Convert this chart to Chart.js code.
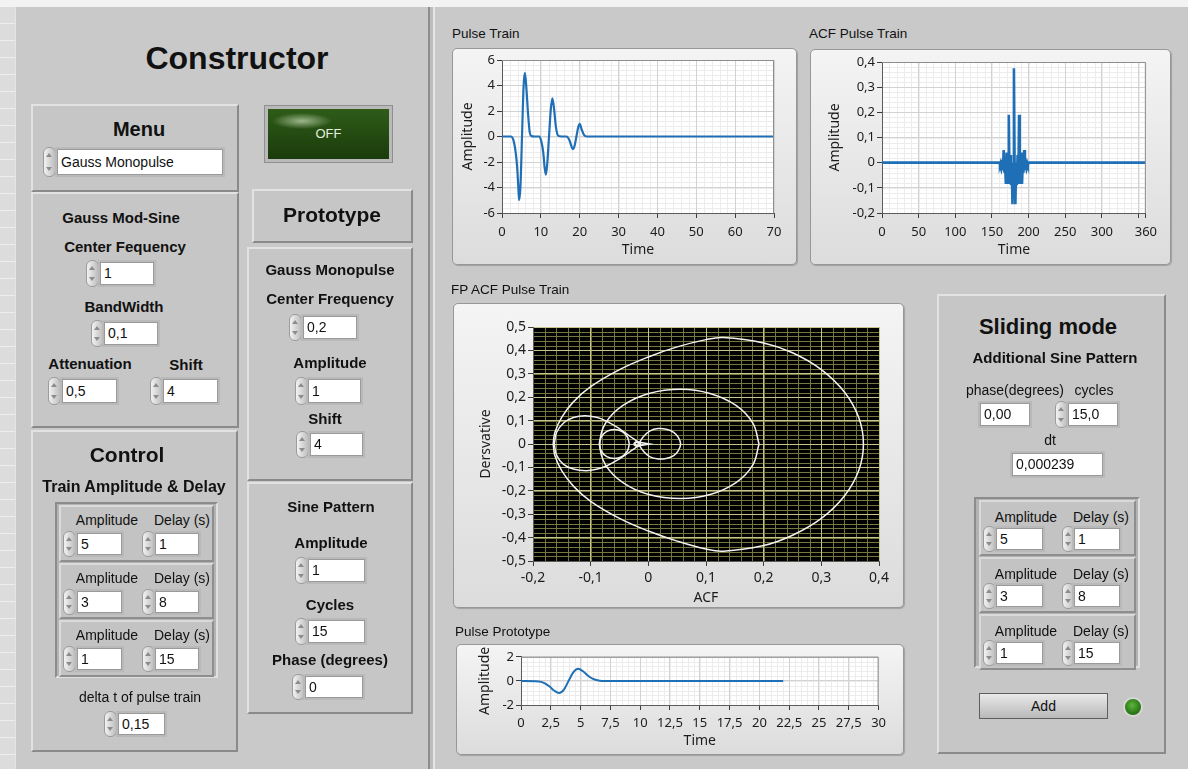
<!DOCTYPE html>
<html>
<head>
<meta charset="utf-8">
<title>Constructor</title>
<script src="https://cdn.jsdelivr.net/npm/chart.js@4.4.1/dist/chart.umd.min.js"></script>
<style>
  html, body { margin: 0; padding: 0; }
  body { width: 1188px; height: 769px; position: relative; overflow: hidden; background: #f3f3f3;
         font-family: 'Liberation Sans', Arial, sans-serif; color: #111; }
  #page > div, #page > canvas { position: absolute; }
  #stripe { left: 0; top: 7px; width: 15px; height: 762px;
            background: repeating-linear-gradient(180deg, #dcdcdc 0px, #dcdcdc 16px, #eeeeee 16px, #eeeeee 17px); }
  #leftPanel { left: 15px; top: 7px; width: 415px; height: 762px; background: #c9c9c9; box-sizing: border-box;
               border-left: 1px solid #e4e4e4; border-right: 2px solid #8e8e8e; }
  #gap { left: 430px; top: 7px; width: 3px; height: 762px; background: #bdbdbd; }
  #rightPanel { left: 433px; top: 7px; width: 755px; height: 762px; background: #c9c9c9; box-sizing: border-box;
                border-left: 2px solid #e6e6e6; }
  .box { background: #c6c6c6; box-sizing: border-box; border: 2px solid; border-color: #e2e2e2 #8a8a8a #8a8a8a #e2e2e2; }
  .lbl { text-align: center; white-space: nowrap; line-height: 20px; }
  .big { font-weight: bold; }
  .b15 { font-weight: bold; font-size: 15px; }
  .r14 { font-size: 14px; }
  .cap { font-size: 13.5px; text-align: left !important; }
  .spin { box-sizing: border-box; border-radius: 6px; border: 1px solid #9c9c9c;
          background: linear-gradient(90deg, #f2f2f2, #bdbdbd); }
  .spin::before, .spin::after { content: ''; position: absolute; left: 2px; border-left: 3px solid transparent; border-right: 3px solid transparent; }
  .spin::before { top: 5px; border-bottom: 4px solid #8c8c8c; }
  .spin::after { bottom: 5px; border-top: 4px solid #8c8c8c; }
  .inp { background: #fff; box-sizing: border-box; border: 1px solid #9a9a9a; box-shadow: 0 0 0 2px #b9b9b9;
         font-size: 14px; padding-left: 3px; white-space: nowrap; overflow: hidden; }
  .clus { background: #b3b3b3; box-sizing: border-box; border: 2px solid; border-color: #8c8c8c #e0e0e0 #e0e0e0 #8c8c8c; }
  .cel { background: #c3c3c3; box-sizing: border-box; border: 2px solid; border-color: #dadada #8e8e8e #8e8e8e #dadada; }
  .frame { box-sizing: border-box; border: 1px solid #979797; border-radius: 5px;
           background: linear-gradient(180deg, #f4f4f4, #dcdcdc); box-shadow: 1px 1px 1px rgba(0,0,0,0.2); }
  #off { box-sizing: border-box; border: 3px solid #b9b9b9; outline: 1px solid #8f8f8f;
         background: radial-gradient(ellipse 30px 8px at 34px 12px, rgba(205,225,190,0.7), rgba(60,100,40,0) 100%),
                     linear-gradient(180deg, #2f5c19, #1a3b0b);
         color: #e6eedf; font-size: 13px; text-align: center; line-height: 50px; }
  #addBtn { box-sizing: border-box; border: 1px solid #5e5e5e; background: linear-gradient(180deg, #e9e9e9, #b9b9b9);
            font-size: 14px; text-align: center; line-height: 24px; }
  #led { box-sizing: border-box; border-radius: 50%; border: 2px solid #d6d6d6;
         background: radial-gradient(circle at 45% 40%, #5fb53c, #2a7a18 60%, #17520c); }
</style>
</head>
<body>
<div id="page">
  <div id="stripe"></div>
  <div id="leftPanel"></div>
  <div id="gap"></div>
  <div id="rightPanel"></div>
  <div class="frame" style="left:452px;top:48px;width:345px;height:217px"></div>
  <div class="frame" style="left:810px;top:49px;width:361px;height:216px"></div>
  <div class="frame" style="left:453px;top:303px;width:451px;height:305px"></div>
  <div class="frame" style="left:456px;top:644px;width:448px;height:111px"></div>
  <canvas id="trainChart" width="334" height="213" style="left:456px;top:50px"></canvas>
  <canvas id="acfChart" width="350" height="212" style="left:813px;top:51px"></canvas>
  <canvas id="fpChart" width="440" height="301" style="left:456px;top:306px"></canvas>
  <canvas id="protoChart" width="432" height="106" style="left:459px;top:647px"></canvas>
</div>
<script>
// Pulse Train (time, amplitude)
var trainTime = [0, 2.3, 2.9, 3.5, 3.9, 4.2, 4.4, 4.75, 5.15, 5.55, 5.9, 6.25, 6.7, 7.15, 7.6, 8.4,
                 9.6, 10.1, 10.6, 11.0, 11.3, 11.65, 12.1, 12.55, 12.95, 13.35, 13.9, 14.5, 15.3,
                 16.6, 17.3, 17.75, 18.2, 18.7, 19.15, 19.6, 20.0, 20.5, 21.1, 21.8, 70];
var trainAmp = [0, 0, -0.25, -1.2, -2.4, -4.0, -5.0, -3.9, 0, 3.9, 5.0, 3.9, 1.8, 0.3, 0.03, 0,
                0, -0.35, -1.2, -2.5, -3.0, -2.1, 0, 2.1, 3.0, 2.3, 0.7, 0.05, 0,
                0, -0.25, -0.65, -1.0, -0.7, 0, 0.7, 1.0, 0.55, 0.13, 0, 0];
var trainXTicks = [0, 10, 20, 30, 40, 50, 60, 70];
var trainYTicks = [-6, -4, -2, 0, 2, 4, 6];

// ACF Pulse Train
var acfLag = [0, 160, 161, 162, 163, 164, 165, 166, 167, 168, 169, 170, 171, 172, 173, 174, 175, 176, 177, 178, 179,
              180, 181, 182, 183, 184, 185, 186, 187, 188, 189, 190, 191, 192, 193, 194, 195, 196, 197, 198, 199, 200, 360];
var acfValue = [0, 0, -0.01, 0, -0.015, 0.01, -0.03, 0.05, -0.04, -0.01, -0.085, 0.04, -0.085, 0.01, 0.19, -0.085, 0.03, -0.09, 0, -0.165, -0.04,
                0.375, -0.04, -0.165, 0, -0.09, 0.03, -0.085, 0.19, 0.01, -0.085, 0.04, -0.085, -0.01, -0.04, 0.05, -0.03, 0.01, -0.015, 0, -0.01, 0, 0];
var acfXTicks = [0, 50, 100, 150, 200, 250, 300, 350, 360];
var acfXHidden = [350];
var acfYTicks = [-0.2, -0.1, 0, 0.1, 0.2, 0.3, 0.4];

// FP ACF Pulse Train: phase portrait loops (ACF, derivative)
var fpOuterAcf = [-0.165, -0.162, -0.15, -0.13, -0.1, -0.05, 0, 0.05, 0.1, 0.13, 0.2, 0.25, 0.3, 0.34, 0.365, 0.373,
                  0.365, 0.34, 0.3, 0.25, 0.2, 0.13, 0.1, 0.05, 0, -0.05, -0.1, -0.13, -0.15, -0.162, -0.165];
var fpOuterDer = [0, 0.05, 0.115, 0.18, 0.245, 0.318, 0.372, 0.415, 0.446, 0.455, 0.432, 0.39, 0.318, 0.222, 0.112, 0,
                  -0.112, -0.222, -0.318, -0.39, -0.434, -0.458, -0.449, -0.415, -0.372, -0.318, -0.245, -0.18, -0.115, -0.05, 0];
var fpMidAcf = [0.192, 0.181, 0.152, 0.107, 0.056, 0.001, -0.044, -0.074, -0.084, -0.074, -0.044, 0.001, 0.056, 0.107, 0.152, 0.181, 0.192];
var fpMidDer = [0, 0.09, 0.165, 0.216, 0.234, 0.216, 0.165, 0.09, 0, -0.09, -0.165, -0.216, -0.233, -0.216, -0.165, -0.09, 0];
var fpLeftAcf = [-0.163, -0.159, -0.147, -0.13, -0.11, -0.09, -0.072, -0.05, -0.032, -0.017,
                 -0.032, -0.05, -0.072, -0.09, -0.108, -0.13, -0.147, -0.159, -0.163];
var fpLeftDer = [0, 0.05, 0.09, 0.113, 0.121, 0.114, 0.097, 0.065, 0.033, 0,
                 -0.033, -0.063, -0.093, -0.108, -0.114, -0.107, -0.087, -0.048, 0];
var fpSmallAcf = [-0.033, -0.0365, -0.046, -0.059, -0.072, -0.0815, -0.085, -0.0815, -0.072, -0.059, -0.046, -0.0365, -0.033];
var fpSmallDer = [0, 0.031, 0.054, 0.062, 0.054, 0.031, 0, -0.031, -0.054, -0.062, -0.054, -0.031, 0];
var fpRightAcf = [-0.017, -0.009, 0.003, 0.017, 0.031, 0.044, 0.052, 0.056, 0.052, 0.044, 0.031, 0.017, 0.003, -0.009, -0.017];
var fpRightDer = [0, 0.03, 0.056, 0.066, 0.063, 0.05, 0.028, 0, -0.028, -0.05, -0.062, -0.064, -0.055, -0.029, 0];
var fpCoreAcf = [-0.024, -0.02, 0.002, -0.02, -0.024];
var fpCoreDer = [0, 0.009, 0, -0.009, 0];
var fpDotAcf = [-0.013, -0.019, -0.025, -0.019, -0.013];
var fpDotDer = [0, 0.011, 0, -0.011, 0];
var fpXTicks = [-0.2, -0.1, 0, 0.1, 0.2, 0.3, 0.4];
var fpYTicks = [-0.5, -0.4, -0.3, -0.2, -0.1, 0, 0.1, 0.2, 0.3, 0.4, 0.5];

// Pulse Prototype
var protoTime = [0, 1.2, 1.6, 2.0, 2.4, 2.8, 3.2, 3.6, 4.0, 4.4, 4.8, 5.2, 5.6, 6.0, 6.4, 6.8, 22];
var protoAmp = [0, -0.02, -0.06, -0.2, -0.47, -0.82, -1.0, -0.72, 0.02, 0.72, 1.0, 0.8, 0.45, 0.18, 0.05, 0, 0];
var protoXTicks = [0, 2.5, 5, 7.5, 10, 12.5, 15, 17.5, 20, 22.5, 25, 27.5, 30];
var protoYTicks = [-2, 0, 2];

// ---------- front panel controls ----------
var page = document.getElementById('page');

function el(cls, left, top, width, height, html) {
  var d = document.createElement('div');
  d.className = cls;
  d.style.left = left + 'px';
  d.style.top = top + 'px';
  if (width != null) d.style.width = width + 'px';
  if (height != null) d.style.height = height + 'px';
  if (html != null) d.textContent = html;
  page.appendChild(d);
  return d;
}

function label(cx, cy, text, cls, size) {
  var d = el('lbl ' + cls, cx - 150, cy - 10, 300, 20, text);
  if (size) d.style.fontSize = size + 'px';
  return d;
}

function num(spinX, boxX, boxRight, top, bottom, text) {
  if (spinX != null) el('spin', spinX, top - 2, 13, bottom - top + 4);
  var d = el('inp', boxX, top, boxRight - boxX, bottom - top, text);
  d.style.lineHeight = (bottom - top - 2) + 'px';
}

function cluster(x0, y0, x1, y1, cellX0, cellX1, rowTop, rowStep, rows, lab) {
  el('clus', x0, y0, x1 - x0, y1 - y0);
  for (var i = 0; i < rows.length; i++) {
    var t = rowTop + i * rowStep;
    el('cel', cellX0, t, cellX1 - cellX0, rowStep - 1);
    label(lab.ampX, t + lab.lblDy, 'Amplitude', 'r14');
    label(lab.delX, t + lab.lblDy, 'Delay (s)', 'r14');
    num(lab.s1, lab.b1, lab.b1r, t + lab.boxDy, t + lab.boxDy + 22, rows[i][0]);
    num(lab.s2, lab.b2, lab.b2r, t + lab.boxDy, t + lab.boxDy + 22, rows[i][1]);
  }
}

// left panel boxes
el('box', 31, 104, 208, 88);
el('box', 31, 192, 208, 236);
el('box', 31, 430, 207, 322);
el('box', 252, 189, 161, 54);
el('box', 247, 247, 166, 234);
el('box', 247, 482, 166, 232);
el('box', 937, 294, 229, 460);

label(237, 58, 'Constructor', 'big', 32);
label(139, 129, 'Menu', 'big', 20);
num(43, 57, 223, 149, 175, 'Gauss Monopulse');
el('', 265, 106, 127, 56, 'OFF').id = 'off';

label(121, 218, 'Gauss Mod-Sine', 'b15');
label(125, 247, 'Center Fequency', 'b15');
num(86, 100, 154, 262, 285, '1');
label(124, 307, 'BandWidth', 'b15');
num(91, 104, 158, 322, 345, '0,1');
label(90, 364, 'Attenuation', 'b15');
label(186, 365, 'Shift', 'b15');
num(48, 62, 117, 379, 403, '0,5');
num(150, 163, 218, 379, 403, '4');

label(332, 215, 'Prototype', 'big', 21);
label(330, 270, 'Gauss Monopulse', 'b15');
label(330, 299, 'Center Frequency', 'b15');
num(289, 303, 357, 316, 339, '0,2');
label(330, 363, 'Amplitude', 'b15');
num(295, 308, 361, 379, 403, '1');
label(325, 419, 'Shift', 'b15');
num(296, 310, 363, 433, 456, '4');

label(331, 507, 'Sine Pattern', 'b15');
label(331, 543, 'Amplitude', 'b15');
num(295, 308, 365, 559, 582, '1');
label(330, 605, 'Cycles', 'b15');
num(295, 308, 365, 620, 643, '15');
label(330, 660, 'Phase (degrees)', 'b15');
num(292, 305, 363, 676, 698, '0');

label(127, 455, 'Control', 'big', 21);
label(134, 487, 'Train Amplitude & Delay', 'b15', 16);
cluster(55, 502, 218, 678, 59, 214, 505, 57.5, [['5', '1'], ['3', '8'], ['1', '15']],
        { ampX: 107, delX: 182, lblDy: 15, boxDy: 28, s1: 63, b1: 77, b1r: 122, s2: 142, b2: 155, b2r: 199 });
label(140, 697, 'delta t of pulse train', 'r14');
num(104, 118, 165, 713, 735, '0,15');

// chart captions
el('lbl cap', 452, 24, 200, 20, 'Pulse Train');
el('lbl cap', 809, 24, 200, 20, 'ACF Pulse Train');
el('lbl cap', 451, 280, 200, 20, 'FP ACF Pulse Train');
el('lbl cap', 455, 622, 200, 20, 'Pulse Prototype');

// sliding mode panel
label(1048, 327, 'Sliding mode', 'big', 22);
label(1055, 358, 'Additional Sine Pattern', 'b15');
label(1015, 390, 'phase(degrees)', 'r14');
label(1094, 390, 'cycles', 'r14');
num(null, 980, 1030, 403, 426, '0,00');
num(1055, 1068, 1118, 403, 426, '15,0');
label(1050, 440, 'dt', 'r14');
num(null, 1012, 1103, 453, 476, '0,000239');
cluster(974, 497, 1140, 668, 979, 1136, 500, 57, [['5', '1'], ['3', '8'], ['1', '15']],
        { ampX: 1026, delX: 1101, lblDy: 17, boxDy: 28, s1: 983, b1: 996, b1r: 1043, s2: 1062, b2: 1074, b2r: 1120 });
el('', 979, 693, 129, 26, 'Add').id = 'addBtn';
el('', 1123, 697, 20, 20).id = 'led';

// ---------- charts ----------
var tickFamily = "'Noto Sans', 'DejaVu Sans', sans-serif";

function commaLabel(v) {
  return String(v).replace('.', ',');
}

// fills the plot area and draws the fine LabVIEW-style minor grid
var lvPlot = {
  id: 'lvPlot',
  beforeDraw: function (chart, args, o) {
    var ctx = chart.ctx, a = chart.chartArea, sx = chart.scales.x, sy = chart.scales.y;
    var i, v, p;
    ctx.save();
    ctx.fillStyle = o.background;
    ctx.fillRect(a.left, a.top, a.right - a.left, a.bottom - a.top);
    ctx.strokeStyle = o.minorColor;
    ctx.lineWidth = 1;
    ctx.beginPath();
    for (i = 0; ; i++) {
      v = sx.min + i * o.xMinor;
      if (v > sx.max + 1e-9) break;
      p = Math.round(sx.getPixelForValue(v)) + 0.5;
      ctx.moveTo(p, a.top);
      ctx.lineTo(p, a.bottom);
    }
    for (i = 0; ; i++) {
      v = sy.min + i * o.yMinor;
      if (v > sy.max + 1e-9) break;
      p = Math.round(sy.getPixelForValue(v)) + 0.5;
      ctx.moveTo(a.left, p);
      ctx.lineTo(a.right, p);
    }
    ctx.stroke();
    ctx.restore();
  },
  afterDraw: function (chart, args, o) {
    if (!o.frameColor) return;
    var ctx = chart.ctx, a = chart.chartArea;
    ctx.save();
    ctx.strokeStyle = o.frameColor;
    ctx.lineWidth = 1;
    ctx.beginPath();
    ctx.moveTo(a.left, a.top + 0.5);
    ctx.lineTo(a.right - 0.5, a.top + 0.5);
    ctx.lineTo(a.right - 0.5, a.bottom);
    ctx.stroke();
    ctx.restore();
  }
};

function buildScales(ax) {
  return {
    x: {
      type: 'linear', position: 'bottom',
      min: ax.xTicks[0], max: ax.xTicks[ax.xTicks.length - 1],
      afterBuildTicks: function (s) { s.ticks = ax.xTicks.map(function (v) { return { value: v }; }); },
      afterFit: function (s) { s.height = ax.xHeight; },
      ticks: {
        autoSkip: false, maxRotation: 0, color: '#1c1c1c', padding: ax.xTickPad,
        font: { family: tickFamily, size: ax.tickSize },
        callback: function (v) { return (ax.xHide && ax.xHide.indexOf(v) >= 0) ? '' : commaLabel(v); }
      },
      grid: { color: ax.major, tickColor: '#3c3c3c', tickLength: 5 },
      border: { color: '#5c5c5c' },
      title: { display: true, text: ax.xTitle, color: '#1c1c1c', font: { family: tickFamily, size: 14 },
               padding: { top: 0, bottom: ax.xTitlePad } }
    },
    y: {
      type: 'linear', position: 'left',
      min: ax.yTicks[0], max: ax.yTicks[ax.yTicks.length - 1],
      afterBuildTicks: function (s) { s.ticks = ax.yTicks.map(function (v) { return { value: v }; }); },
      afterFit: function (s) { s.width = ax.yWidth; },
      ticks: { autoSkip: false, color: '#1c1c1c', padding: 2, font: { family: tickFamily, size: ax.tickSize },
               callback: function (v) { return commaLabel(v); } },
      grid: { color: ax.major, tickColor: '#3c3c3c', tickLength: 5 },
      border: { color: '#5c5c5c' },
      title: { display: true, text: ax.yTitle, color: '#1c1c1c', font: { family: tickFamily, size: 14 },
               padding: { top: ax.yTitlePad, bottom: 0 } }
    }
  };
}

function makeChart(id, datasets, ax, look) {
  return new Chart(document.getElementById(id), {
    type: 'scatter',
    data: { datasets: datasets },
    options: {
      responsive: false,
      animation: false,
      events: [],
      layout: { padding: { top: ax.padTop, right: ax.padRight, left: 0, bottom: 0 } },
      scales: buildScales(ax),
      plugins: { legend: { display: false }, tooltip: { enabled: false }, lvPlot: look }
    },
    plugins: [lvPlot]
  });
}

function xy(xs, ys) {
  return xs.map(function (x, i) { return { x: x, y: ys[i] }; });
}

function traceSet(xs, ys, color, width, extra) {
  var ds = { data: xy(xs, ys), showLine: true, borderColor: color, borderWidth: width, pointRadius: 0, fill: false };
  for (var k in (extra || {})) ds[k] = extra[k];
  return ds;
}

var whitePlot = { background: '#ffffff', minorColor: '#ececec', frameColor: '#8e8e8e' };

var trainChart = makeChart('trainChart',
  [traceSet(trainTime, trainAmp, '#1f6fb6', 2.2, { cubicInterpolationMode: 'monotone' })],
  { xTicks: trainXTicks, yTicks: trainYTicks, xTitle: 'Time', yTitle: 'Amplitude', tickSize: 13,
    xHeight: 50, yWidth: 46, padTop: 10, padRight: 16, xTickPad: 6, xTitlePad: 5, yTitlePad: 4, major: '#d2d2d2' },
  Object.assign({ xMinor: 2, yMinor: 0.4 }, whitePlot));

var acfChart = makeChart('acfChart',
  [traceSet(acfLag, acfValue, '#1f6fb6', 2.6)],
  { xTicks: acfXTicks, xHide: acfXHidden, yTicks: acfYTicks, xTitle: 'Time', yTitle: 'Amplitude', tickSize: 13,
    xHeight: 50, yWidth: 69, padTop: 11, padRight: 14, xTickPad: 6, xTitlePad: 5, yTitlePad: 14, major: '#d2d2d2' },
  Object.assign({ xMinor: 10, yMinor: 0.02 }, whitePlot));

var fpColor = '#f2f2f2';
var fpChart = makeChart('fpChart',
  [
    traceSet(fpOuterAcf, fpOuterDer, fpColor, 1.5, { tension: 0.4 }),
    traceSet(fpMidAcf, fpMidDer, fpColor, 1.5, { tension: 0.4 }),
    traceSet(fpLeftAcf, fpLeftDer, fpColor, 1.5, { tension: 0.4 }),
    traceSet(fpSmallAcf, fpSmallDer, fpColor, 1.5, { tension: 0.4 }),
    traceSet(fpRightAcf, fpRightDer, fpColor, 1.5, { tension: 0.4 }),
    traceSet(fpCoreAcf, fpCoreDer, fpColor, 1.5, { tension: 0 }),
    traceSet(fpDotAcf, fpDotDer, fpColor, 1.5, { tension: 0.4 })
  ],
  { xTicks: fpXTicks, yTicks: fpYTicks, xTitle: 'ACF', yTitle: 'Dersvative', tickSize: 14,
    xHeight: 46, yWidth: 77, padTop: 21, padRight: 17, xTickPad: 4, xTitlePad: 1, yTitlePad: 22, major: '#c4c48c' },
  { background: '#000000', minorColor: '#76763f', xMinor: 0.02, yMinor: 0.02, frameColor: null });

var protoChart = makeChart('protoChart',
  [traceSet(protoTime, protoAmp, '#1f6fb6', 2, { cubicInterpolationMode: 'monotone' })],
  { xTicks: protoXTicks, yTicks: protoYTicks, xTitle: 'Time', yTitle: 'Amplitude', tickSize: 13,
    xHeight: 48, yWidth: 62, padTop: 8, padRight: 9, xTickPad: 5, xTitlePad: 4, yTitlePad: 18, major: '#d2d2d2' },
  Object.assign({ xMinor: 0.5, yMinor: 0.4 }, whitePlot));
</script>
</body>
</html>
